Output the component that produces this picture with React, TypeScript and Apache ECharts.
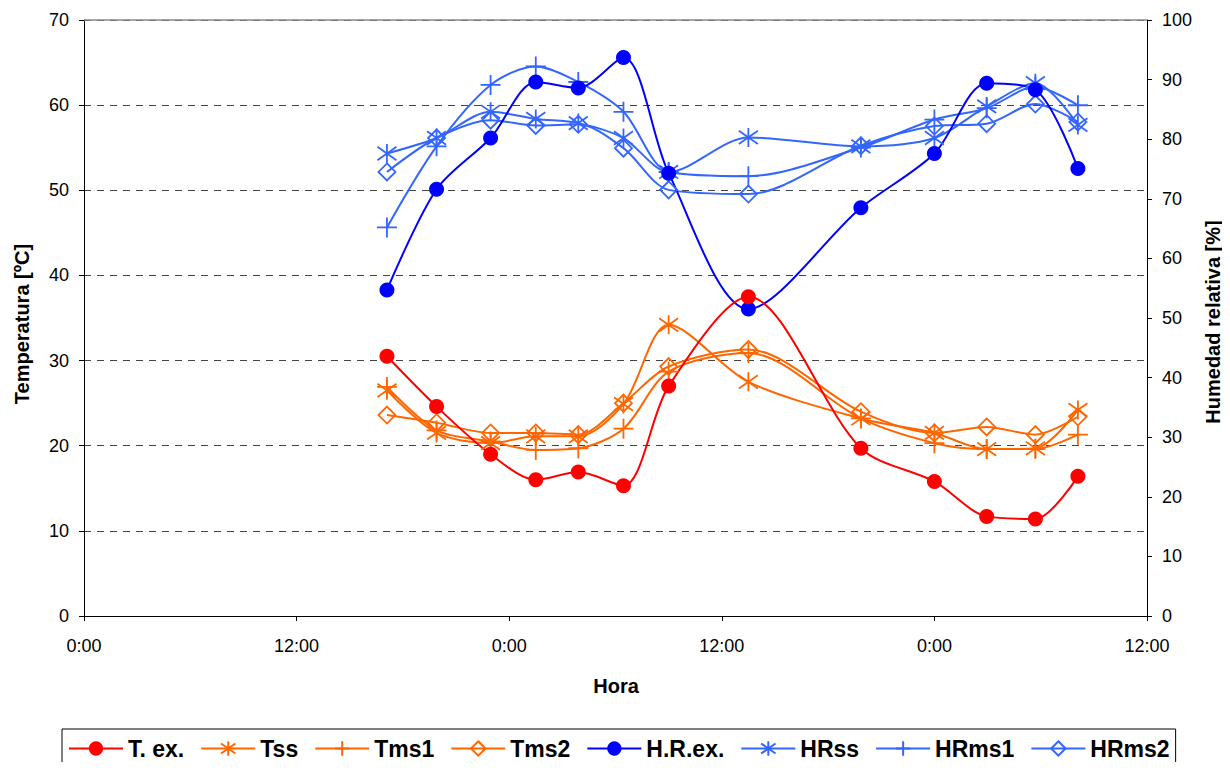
import React, { useEffect, useRef } from "react";
import * as echarts from "echarts";

// Time of each measurement, in hours from the first 0:00
const hours = [17.1, 19.9, 22.95, 25.5, 27.9, 30.45, 33.0, 37.5, 43.85, 48.0, 50.95, 53.7, 56.1];
// Temperatures [ºC]
const tEx = [30.5, 24.6, 19.0, 16.0, 16.9, 15.3, 27.0, 37.5, 19.7, 15.8, 11.7, 11.4, 16.4];
const tss = [26.5, 21.5, 20.3, 21.1, 21.1, 24.9, 34.2, 27.5, 23.2, 21.5, 19.6, 19.7, 24.2];
const tms1 = [26.9, 21.8, 20.5, 19.5, 19.7, 22.0, 28.7, 30.9, 23.2, 20.3, 19.6, 19.6, 21.3];
const tms2 = [23.6, 22.7, 21.5, 21.5, 21.3, 25.0, 29.3, 31.3, 24.0, 21.5, 22.2, 21.3, 23.4];
// Relative humidity [%]
const hrEx = [54.7, 71.6, 80.2, 89.6, 88.6, 93.7, 74.3, 51.5, 68.5, 77.6, 89.4, 88.3, 75.1];
const hrss = [77.6, 80.2, 84.6, 83.4, 82.7, 80.2, 74.5, 80.3, 78.8, 80.2, 85.5, 89.4, 82.4];
const hrms1 = [65.2, 78.8, 89.1, 92.2, 89.6, 84.6, 74.5, 73.8, 78.6, 83.3, 85.2, 88.8, 85.7];
const hrms2 = [74.5, 80.2, 83.2, 82.3, 82.5, 78.5, 71.5, 70.8, 78.9, 82.2, 82.6, 85.9, 82.9];

const xTickLabels = ["0:00", "12:00", "0:00", "12:00", "0:00", "12:00"];
const seriesNames = ["T. ex.", "Tss", "Tms1", "Tms2", "H.R.ex.", "HRss", "HRms1", "HRms2"];

const FONT = "'Liberation Sans', Arial, Helvetica, sans-serif";
const RED = "#FF0000";
const ORANGE = "#FF6600";
const BLUE = "#0000FF";
const LBLUE = "#3366FF";

const ASTERISK = "path://M0,-10L0,10M-9,-7L9,7M-9,7L9,-7";
const PLUS = "path://M0,-10L0,10M-10,0L10,0";

function pairs(vals: number[]) {
  return hours.map((h, i) => [h, vals[i]]);
}

function mk(
  name: string,
  vals: number[],
  color: string,
  symbol: string,
  size: number,
  axis: number,
  hollow = false
) {
  const isPath = symbol.startsWith("path://");
  return {
    name,
    type: "line",
    yAxisIndex: axis,
    data: pairs(vals),
    smooth: 0.3,
    symbol,
    symbolSize: size,
    showAllSymbol: true,
    lineStyle: { color, width: 2 },
    itemStyle: {
      color: hollow ? "rgba(255,255,255,0)" : color,
      borderColor: color,
      borderWidth: isPath || hollow ? 1.8 : 0,
    },
    emphasis: { disabled: true },
  };
}

export default function App() {
  const ref = useRef<HTMLDivElement>(null);
  useEffect(() => {
    if (!ref.current) return;
    const chart = echarts.init(ref.current, null, { renderer: "svg" });
    const axisLabelStyle = { color: "#000", fontSize: 18, fontFamily: FONT };
    chart.setOption({
      animation: false,
      backgroundColor: "#fff",
      textStyle: { fontFamily: FONT },
      grid: { left: 84, right: 83, top: 20, bottom: 154, containLabel: false },
      xAxis: {
        type: "value",
        min: 0,
        max: 60,
        interval: 12,
        axisLine: { show: true, lineStyle: { color: "#000", width: 1 } },
        axisTick: { show: true, length: 5, lineStyle: { color: "#000" } },
        axisLabel: {
          ...axisLabelStyle,
          margin: 21,
          formatter: (v: number) => xTickLabels[Math.round(v / 12)] ?? "",
        },
        splitLine: { show: false },
      },
      yAxis: [
        {
          type: "value",
          min: 0,
          max: 70,
          interval: 10,
          position: "left",
          axisLine: { show: true, lineStyle: { color: "#000", width: 1 } },
          axisTick: { show: true, length: 5, lineStyle: { color: "#000" } },
          axisLabel: { ...axisLabelStyle, margin: 15 },
          splitLine: {
            show: true,
            lineStyle: { color: "#444", width: 1, type: [7, 6] },
          },
        },
        {
          type: "value",
          min: 0,
          max: 100,
          interval: 10,
          position: "right",
          axisLine: { show: true, lineStyle: { color: "#000", width: 1 } },
          axisTick: { show: true, length: 5, lineStyle: { color: "#000" } },
          axisLabel: { ...axisLabelStyle, margin: 15 },
          splitLine: { show: false },
        },
      ],
      legend: {
        data: seriesNames,
        left: 62,
        top: 729,
        orient: "horizontal",
        itemWidth: 54,
        itemHeight: 18,
        itemGap: 16,
        padding: [8, 6, 12, 6],
        borderColor: "#000",
        borderWidth: 1,
        textStyle: { color: "#000", fontSize: 23, fontWeight: "bold", fontFamily: FONT },
      },
      graphic: [
        {
          type: "line",
          shape: { x1: 84, y1: 20, x2: 1147, y2: 20 },
          style: { stroke: "#888", lineWidth: 1.5 },
          z: 10,
        },
        {
          type: "text",
          x: 22,
          y: 324,
          rotation: Math.PI / 2,
          style: {
            text: "Temperatura [ºC]",
            font: `bold 20px ${FONT}`,
            fill: "#000",
            textAlign: "center",
            textVerticalAlign: "middle",
          },
        },
        {
          type: "text",
          x: 1213,
          y: 322,
          rotation: Math.PI / 2,
          style: {
            text: "Humedad relativa [%]",
            font: `bold 20px ${FONT}`,
            fill: "#000",
            textAlign: "center",
            textVerticalAlign: "middle",
          },
        },
        {
          type: "text",
          x: 616,
          y: 686,
          style: {
            text: "Hora",
            font: `bold 20px ${FONT}`,
            fill: "#000",
            textAlign: "center",
            textVerticalAlign: "middle",
          },
        },
      ],
      series: [
        mk("HRms2", hrms2, LBLUE, "diamond", 17, 1, true),
        mk("HRms1", hrms1, LBLUE, PLUS, 20, 1),
        mk("HRss", hrss, LBLUE, ASTERISK, 19, 1),
        mk("H.R.ex.", hrEx, BLUE, "circle", 15, 1),
        mk("Tms2", tms2, ORANGE, "diamond", 17, 0, true),
        mk("Tms1", tms1, ORANGE, PLUS, 20, 0),
        mk("Tss", tss, ORANGE, ASTERISK, 19, 0),
        mk("T. ex.", tEx, RED, "circle", 15, 0),
      ],
    });
    return () => chart.dispose();
  }, []);
  return <div ref={ref} style={{ width: 1230, height: 770, margin: -8 }} />;
}
